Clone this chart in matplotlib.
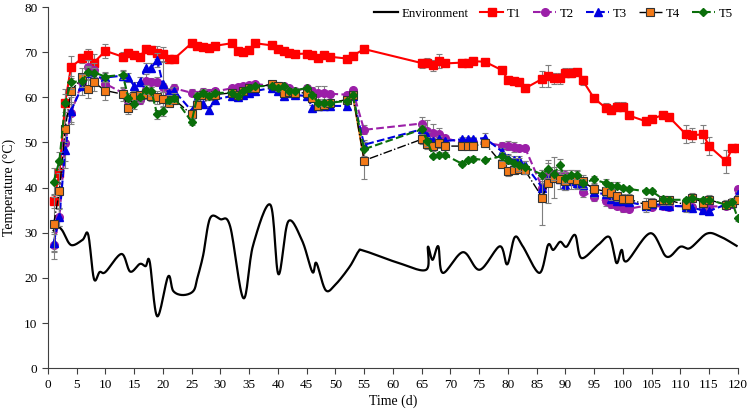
import numpy as np
import matplotlib

matplotlib.use("Agg")
import matplotlib.pyplot as plt

plt.rcParams["font.family"] = ["Liberation Serif", "DejaVu Serif"]

# sampling days shared by the five treatments
DAYS = [1, 2, 3, 4, 6, 7, 8, 10, 13, 14,
        15, 16, 17, 18, 19, 20, 21, 22, 25, 26,
        27, 28, 29, 32, 33, 34, 35, 36, 39, 40,
        41, 42, 43, 45, 46, 47, 48, 49, 52, 53,
        55, 65, 66, 67, 68, 69, 72, 73, 74, 76,
        79, 80, 81, 82, 83, 86, 87, 88, 89, 90,
        91, 92, 93, 95, 97, 98, 99, 100, 101, 104,
        105, 107, 108, 111, 112, 114, 115, 118, 119, 120]

T1 = [37, 43.3, 58.8, 66.7, 68.7, 69.4, 67.7, 70.3, 69.0, 69.8,
      69.3, 69.0, 70.7, 70.5, 69.9, 69.6, 68.4, 68.6, 72.0, 71.3,
      71.2, 71.0, 71.4, 72.0, 70.3, 70.0, 70.5, 72.0, 71.5, 70.8,
      70.3, 69.8, 69.6, 69.7, 69.4, 68.8, 69.4, 69.0, 68.6, 69.2,
      70.7, 67.6, 67.7, 67.1, 68.1, 67.5, 67.7, 67.7, 68.0, 67.9,
      66.0, 63.9, 63.7, 63.3, 62.0, 64.1, 64.7, 64.2, 64.2, 65.5,
      65.5, 65.6, 63.8, 59.8, 57.7, 57.2, 57.9, 57.9, 56.0, 54.7,
      55.2, 56.1, 55.7, 51.8, 51.6, 51.8, 49.2, 45.8, 48.7, 48.7]
T2 = [27.2, 33.5, 49.8, 56.5, 63.5, 66.7, 66.0, 63.0, 61.0, 59.2,
      59.2, 59.5, 63.6, 63.3, 63.5, 62.2, 61.0, 62.0, 61.0, 60.5,
      61.2, 61.0, 61.3, 62.0, 62.2, 62.5, 62.7, 63.0, 62.5, 62.3,
      62.5, 62.0, 61.5, 62.0, 61.5, 61.0, 61.0, 60.8, 60.6, 61.6,
      52.8, 54.2, 52.5, 52.2, 51.8, 51.0, 50.0, 50.0, 50.0, 50.0,
      49.3, 49.3, 49.0, 48.8, 48.8, 40.0, 42.5, 43.0, 42.5, 42.8,
      42.0, 41.5, 39.0, 38.0, 37.0, 36.3, 36.0, 35.5, 35.3, 36.0,
      35.8, 35.9, 35.8, 36.0, 35.8, 35.5, 35.8, 35.9, 36.3, 39.8]
T3 = [27.8, 33.5, 48.4, 57.0, 62.5, 65.5, 64.4, 64.4, 64.8, 64.4,
      62.5, 63.5, 66.6, 66.6, 68.3, 62.9, 61.0, 61.4, 57.0, 59.9,
      58.5, 57.3, 59.5, 60.3, 60.0, 60.5, 61.0, 61.4, 62.1, 61.5,
      60.3, 61.0, 60.5, 60.3, 57.7, 58.1, 58.1, 58.1, 58.1, 60.3,
      49.5, 52.9, 51.4, 50.3, 50.7, 50.3, 50.7, 50.7, 50.7, 51.0,
      48.0, 46.6, 46.2, 46.2, 45.0, 40.0, 42.0, 42.5, 42.0, 40.5,
      41.5, 41.0, 40.5, 39.0, 38.5, 37.5, 37.0, 37.0, 36.8, 36.0,
      36.3, 36.2, 36.0, 35.8, 35.5, 35.0, 34.8, 36.3, 36.5, 38.5]
T4 = [32.0, 39.3, 53.0, 61.4, 64.4, 61.8, 63.3, 61.5, 60.7, 57.7,
      60.3, 60.5, 60.7, 60.3, 60.0, 59.6, 58.8, 59.5, 56.2, 58.4,
      60.6, 60.3, 60.6, 61.0, 60.6, 61.5, 62.0, 62.0, 63.0, 62.5,
      61.0, 61.2, 61.0, 61.0, 59.9, 58.1, 58.4, 58.8, 59.5, 60.6,
      46.0, 50.7, 49.6, 49.2, 49.8, 49.2, 49.2, 49.3, 49.2, 49.8,
      45.3, 43.6, 43.8, 44.1, 43.8, 37.8, 41.0, 42.2, 41.8, 41.5,
      41.8, 41.6, 41.4, 39.7, 39.2, 38.7, 38.1, 37.5, 37.5, 36.2,
      36.7, 37.2, 37.2, 36.2, 37.8, 36.7, 37.3, 36.2, 36.6, 37.3]
T5 = [41.3, 46.0, 58.8, 63.3, 63.7, 65.7, 65.5, 64.6, 65.0, 59.9,
      58.5, 60.0, 61.7, 61.4, 56.2, 56.9, 59.5, 59.9, 54.6, 60.3,
      61.0, 60.3, 61.0, 61.0, 60.3, 61.4, 62.0, 62.5, 62.5, 62.0,
      62.5, 61.4, 61.5, 62.1, 60.5, 58.8, 58.8, 58.8, 59.2, 60.6,
      48.5, 52.9, 50.3, 47.0, 47.3, 47.3, 45.3, 46.1, 46.4, 46.1,
      47.0, 46.2, 45.5, 45.1, 44.5, 42.9, 44.2, 43.1, 44.9, 42.1,
      42.9, 42.9, 41.0, 41.8, 41.0, 40.4, 40.4, 39.9, 39.7, 39.2,
      39.2, 37.5, 37.3, 37.3, 37.7, 37.3, 37.3, 36.2, 36.9, 33.2]

T1_ERR = [1.5, 2.5, 3.0, 2.5, 1.0, 1.2, 2.0, 1.5, 1.0, 0.8,
          0.5, 0.5, 0.5, 0.8, 1.5, 1.5, 0.8, 0.5, 0.8, 0.5,
          0.5, 0.5, 0.5, 0.5, 0.5, 0.5, 0.5, 0.7, 0.7, 0.5,
          0.5, 0.7, 0.5, 0.5, 0.5, 0.5, 0.5, 0.5, 0.5, 0.5,
          0.5, 1.0, 1.0, 1.2, 1.5, 0.5, 0.5, 0.8, 0.5, 0.5,
          0.5, 0.5, 0.5, 0.5, 0.8, 1.8, 2.5, 1.2, 1.2, 1.0,
          1.0, 0.5, 1.0, 0.5, 1.0, 1.0, 1.0, 1.0, 0.5, 0.8,
          0.5, 0.5, 0.5, 2.0, 1.5, 2.0, 2.0, 2.5, 0.5, 0.5]
T2_ERR = [3.0, 2.0, 4.0, 2.0, 1.5, 1.5, 1.5, 1.0, 1.0, 1.0,
          1.0, 1.0, 1.5, 1.0, 1.0, 1.0, 1.0, 1.0, 0.8, 0.8,
          0.8, 0.8, 0.8, 0.5, 0.5, 0.5, 0.5, 0.5, 0.5, 0.8,
          0.5, 0.5, 0.5, 0.8, 0.8, 1.5, 1.5, 0.5, 0.5, 0.5,
          1.0, 1.5, 2.5, 2.0, 1.5, 0.5, 0.5, 0.5, 0.5, 0.5,
          0.8, 1.0, 1.0, 0.5, 0.5, 1.5, 1.5, 1.0, 1.0, 1.0,
          1.0, 1.0, 1.0, 1.0, 1.0, 0.8, 0.8, 0.8, 0.5, 0.5,
          0.5, 0.5, 0.5, 0.5, 0.5, 0.5, 0.5, 0.5, 0.5, 0.5]
T3_ERR = [2.0, 2.0, 4.0, 3.0, 2.0, 1.5, 1.5, 1.0, 1.0, 1.0,
          1.0, 1.0, 1.0, 1.0, 1.5, 5.0, 1.0, 1.0, 1.0, 1.0,
          0.8, 0.8, 0.8, 0.5, 0.5, 0.5, 0.5, 0.5, 0.5, 0.5,
          0.5, 0.5, 0.5, 0.5, 0.5, 0.8, 0.8, 0.5, 0.5, 0.5,
          1.0, 1.0, 1.0, 0.8, 0.8, 0.5, 0.5, 0.5, 0.5, 1.0,
          0.8, 0.8, 0.8, 0.8, 0.8, 1.0, 1.5, 1.0, 1.0, 1.0,
          1.0, 1.0, 1.0, 1.0, 0.8, 0.8, 0.8, 0.8, 0.8, 0.5,
          0.5, 0.5, 0.5, 0.5, 0.5, 0.5, 0.5, 0.5, 0.5, 0.8]
T4_ERR = [6.0, 4.0, 3.0, 2.5, 2.0, 2.0, 2.0, 2.0, 1.5, 1.5,
          1.0, 1.0, 1.0, 1.0, 1.5, 1.5, 1.0, 1.0, 1.0, 1.0,
          1.0, 0.8, 0.8, 0.8, 0.8, 0.5, 0.5, 0.5, 0.5, 0.8,
          0.5, 0.8, 0.8, 1.0, 0.8, 0.8, 0.8, 0.8, 0.5, 0.5,
          4.0, 1.0, 1.0, 1.0, 1.0, 0.5, 0.5, 0.5, 0.5, 0.8,
          0.8, 1.0, 0.8, 0.8, 0.8, 6.0, 4.5, 4.5, 2.0, 2.0,
          2.0, 2.0, 1.5, 1.0, 1.0, 1.5, 1.0, 1.0, 1.0, 1.5,
          1.0, 1.0, 1.0, 1.5, 1.0, 1.0, 1.0, 1.0, 1.0, 1.0]
T5_ERR = [3.0, 2.0, 2.0, 1.5, 1.5, 1.0, 1.0, 1.0, 1.0, 1.0,
          1.0, 1.0, 1.0, 1.0, 1.0, 1.0, 1.0, 1.0, 0.8, 0.8,
          0.8, 0.8, 0.5, 0.5, 0.5, 0.5, 0.5, 0.5, 0.5, 0.5,
          0.5, 0.5, 0.5, 0.5, 0.5, 0.8, 0.8, 0.5, 0.5, 0.5,
          1.5, 1.0, 1.0, 0.5, 0.5, 0.5, 0.5, 0.5, 0.5, 0.5,
          1.0, 1.0, 1.0, 1.5, 1.5, 1.0, 2.0, 1.5, 1.5, 1.0,
          1.0, 1.0, 1.0, 0.8, 0.8, 0.8, 0.8, 0.5, 0.5, 0.5,
          0.5, 0.5, 0.5, 0.5, 0.5, 0.5, 0.5, 0.5, 0.5, 0.5]

# ambient temperature
ENV_DAY = [1, 1.7, 2.5, 4, 6, 7, 8, 9, 10, 12.8,
           14.3, 16, 17, 17.7, 19, 20.9, 21.8, 23.5, 25.3, 26,
           27, 28.2, 30, 31.7, 34, 35.7, 38.7, 40.1, 41.8, 44.2,
           46, 46.7, 48.3, 50, 52.5, 54, 55, 61, 65.8, 66.1,
           66.9, 67.9, 68.7, 72.2, 75.1, 78.6, 79.9, 81.2, 82.6, 85.5,
           87, 87.9, 89.1, 90.2, 91.7, 92.8, 95.7, 97.7, 98.9, 99.8,
           100.7, 104.8, 107.6, 110, 111.7, 114.6, 116.9, 119.8]
ENV_TEMP = [30.5, 31.3, 30.5, 27.3, 28.4, 29.6, 19.8, 21.3, 21.3, 25.3,
            21.4, 23.1, 22.6, 23.6, 11.5, 20.3, 17.1, 16.2, 17.1, 20.0,
            25.0, 33.2, 33.0, 31.4, 15.5, 27.3, 36.2, 20.8, 32.5, 28.3,
            21.3, 23.3, 17.3, 18.5, 22.5, 25.8, 26.0, 23.3, 21.8, 26.9,
            24.0, 27.0, 21.1, 25.7, 21.8, 27.0, 23.0, 29.0, 27.0, 21.1,
            27.3, 26.2, 28.0, 26.9, 29.5, 24.4, 27.3, 29.0, 23.3, 26.2,
            23.7, 29.9, 24.7, 26.9, 26.6, 29.8, 29.2, 27.1]


def _smooth(x, y, n=16):
    # Catmull-Rom through the points, like a spreadsheet "smoothed line"
    pts = np.column_stack([x, y]).astype(float)
    p = np.vstack([pts[0], pts, pts[-1]])
    t = np.linspace(0, 1, n, endpoint=False)[:, None]
    out = []
    for i in range(1, len(p) - 2):
        p0, p1, p2, p3 = p[i - 1], p[i], p[i + 1], p[i + 2]
        out.append(0.5 * (2 * p1 + (p2 - p0) * t
                          + (2 * p0 - 5 * p1 + 4 * p2 - p3) * t ** 2
                          + (3 * p1 - p0 - 3 * p2 + p3) * t ** 3))
    out.append(pts[-1:])
    s = np.vstack(out)
    return s[:, 0], s[:, 1]


fig = plt.figure(figsize=(7.49, 4.16), dpi=100)
ax = fig.add_axes([0.064, 0.115, 0.921, 0.868])

ex, ey = _smooth(ENV_DAY, ENV_TEMP)
env, = ax.plot(ex, ey, color="black", lw=1.6, label="Environment", zorder=2)

err_kw = dict(ecolor="#7f7f7f", elinewidth=0.8, capsize=2, capthick=0.8)
series = [
    ("T1", T1, T1_ERR, dict(color="#ff0000", marker="s", ms=6, ls="-", lw=1.5,
                            mfc="#ff0000", mec="#ff0000")),
    ("T2", T2, T2_ERR, dict(color="#9b1fa8", marker="o", ms=5.5, ls="--", lw=1.5,
                            mfc="#9b1fa8", mec="#9b1fa8")),
    ("T3", T3, T3_ERR, dict(color="#0000e0", marker="^", ms=5.5, ls="--", lw=1.5,
                            mfc="#0000e0", mec="#0000e0")),
    ("T4", T4, T4_ERR, dict(color="black", marker="s", ms=6, ls="-.", lw=1.0,
                            mfc="#f47a18", mec="#333333", mew=0.8)),
    ("T5", T5, T5_ERR, dict(color="#0a6e0a", marker="D", ms=4.5, ls="--", lw=1.5,
                            mfc="#0a6e0a", mec="#0a6e0a")),
]

handles = [env]
for i, (name, vals, err, style) in enumerate(series):
    c = ax.errorbar(DAYS, vals, yerr=err, label=name, zorder=3 + i, **err_kw, **style)
    handles.append(c[0])

# the T4 drop between day 53 and 55 is drawn in orange
i53 = DAYS.index(53)
ax.plot(DAYS[i53:i53 + 2], T4[i53:i53 + 2], color="#f47a18", lw=1.3, zorder=6)

ax.set_xlim(0, 120)
ax.set_ylim(0, 80)
ax.set_xticks(range(0, 121, 5))
ax.set_yticks(range(0, 81, 10))
ax.tick_params(direction="out", length=4, width=0.8, colors="#404040",
               labelsize=9.5, labelcolor="black")
for side in ("top", "right"):
    ax.spines[side].set_visible(False)
for side in ("left", "bottom"):
    ax.spines[side].set_color("#404040")
    ax.spines[side].set_linewidth(0.8)

ax.set_xlabel("Time (d)", fontsize=10, labelpad=3)
ax.set_ylabel("Temperature (°C)", fontsize=10, labelpad=6)

ax.legend(handles=handles, labels=["Environment", "T1", "T2", "T3", "T4", "T5"],
          loc="upper right", bbox_to_anchor=(1.01, 1.03), ncol=6, frameon=False,
          fontsize=9.3, handlelength=1.8, columnspacing=0.9, handletextpad=0.3)

fig.savefig("out.png", dpi=100)
